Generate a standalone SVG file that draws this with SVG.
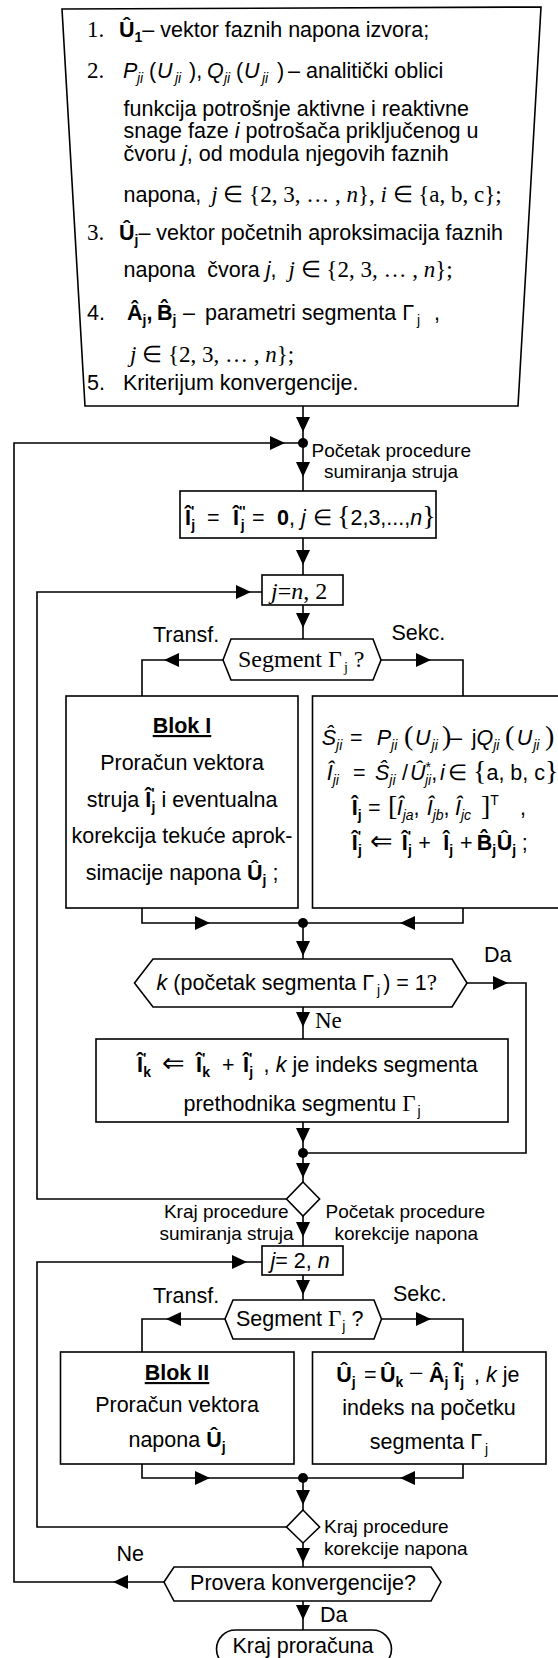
<svg xmlns="http://www.w3.org/2000/svg" width="558" height="1658" viewBox="0 0 558 1658">
<style>
.sh{fill:#fff;stroke:#000;stroke-width:1.6}
.ln{fill:none;stroke:#000;stroke-width:1.6}
.t{font-family:"Liberation Sans",Arial,sans-serif;font-size:21.5px;fill:#000}
.sm{font-family:"Liberation Sans",Arial,sans-serif;font-size:19px;fill:#000}
.tm{font-family:"Liberation Serif","Times New Roman",serif;font-size:23px;fill:#000}
.b{font-weight:bold}
.i{font-style:italic}
.u{font-size:14px}
.c{text-anchor:middle}
.e{text-anchor:end}
.bp{font-family:"Liberation Serif","Times New Roman",serif;font-size:28px}
.ar{font-family:"DejaVu Sans",sans-serif;font-size:27px}
.mn{font-family:"Liberation Serif","Times New Roman",serif;font-size:26px}
</style>
<defs>
<path id="ah" d="M0,0 L-15,-7 L-15,7 Z"/>
</defs>
<rect width="558" height="1658" fill="#fff"/>

<!-- connectors -->
<g id="connectors">
<g class="ln">
<path d="M303,406 V491"/>
<path d="M164,1582 H14 V443 H303"/>
<path d="M303,538 V575"/>
<path d="M286.5,1199 H37 V592 H262"/>
<path d="M303,605 V639"/>
<path d="M223,660 H142 V696"/>
<path d="M381,660 H463 V696"/>
<path d="M142,908 V923 H463 V908"/>
<path d="M303,923 V959"/>
<path d="M467,983 H526 V1153 H303"/>
<path d="M303,1007 V1039"/>
<path d="M303,1122 V1182"/>
<path d="M303,1216 V1246"/>
<path d="M286.5,1527 H37 V1262 H262"/>
<path d="M303,1275 V1300"/>
<path d="M225,1319 H142 V1352"/>
<path d="M381.5,1319 H463 V1352"/>
<path d="M142,1464 V1478 H463 V1464"/>
<path d="M303,1478 V1510"/>
<path d="M303,1543 V1567"/>
<path d="M303,1601 V1630"/>
</g>
<g fill="#000">
<circle cx="303" cy="443" r="5"/>
<circle cx="303" cy="923" r="5"/>
<circle cx="303" cy="1153" r="5"/>
<circle cx="303" cy="1478" r="5"/>
<use href="#ah" transform="translate(303,432) rotate(90)"/>
<use href="#ah" transform="translate(285,443)"/>
<use href="#ah" transform="translate(303,477) rotate(90)"/>
<use href="#ah" transform="translate(303,565) rotate(90)"/>
<use href="#ah" transform="translate(251,592)"/>
<use href="#ah" transform="translate(303,628) rotate(90)"/>
<use href="#ah" transform="translate(164,660) rotate(180)"/>
<use href="#ah" transform="translate(431,660)"/>
<use href="#ah" transform="translate(210,923)"/>
<use href="#ah" transform="translate(400,923) rotate(180)"/>
<use href="#ah" transform="translate(303,956) rotate(90)"/>
<use href="#ah" transform="translate(508,983)"/>
<use href="#ah" transform="translate(303,1027) rotate(90)"/>
<use href="#ah" transform="translate(303,1143) rotate(90)"/>
<use href="#ah" transform="translate(303,1178) rotate(90)"/>
<use href="#ah" transform="translate(303,1237) rotate(90)"/>
<use href="#ah" transform="translate(247,1262)"/>
<use href="#ah" transform="translate(303,1295) rotate(90)"/>
<use href="#ah" transform="translate(166,1319) rotate(180)"/>
<use href="#ah" transform="translate(431,1319)"/>
<use href="#ah" transform="translate(210,1478)"/>
<use href="#ah" transform="translate(400,1478) rotate(180)"/>
<use href="#ah" transform="translate(303,1505) rotate(90)"/>
<use href="#ah" transform="translate(303,1563) rotate(90)"/>
<use href="#ah" transform="translate(113,1582) rotate(180)"/>
<use href="#ah" transform="translate(303,1620) rotate(90)"/>
</g>
<g id="connector-labels">
<text class="sm" x="311.5" y="457">Početak procedure</text>
<text class="sm" x="324" y="478">sumiranja struja</text>
<text class="t" x="153" y="642">Transf.</text>
<text class="t" x="391.5" y="640">Sekc.</text>
<text class="t" x="484" y="962">Da</text>
<text class="tm" x="315" y="1028">Ne</text>
<text class="sm e" x="288.5" y="1218">Kraj procedure</text>
<text class="sm e" x="293.5" y="1240">sumiranja struja</text>
<text class="sm" x="325.5" y="1218">Početak procedure</text>
<text class="sm" x="334.5" y="1240">korekcije napona</text>
<text class="t" x="153" y="1303">Transf.</text>
<text class="t" x="393" y="1301">Sekc.</text>
<text class="sm" x="324" y="1533">Kraj procedure</text>
<text class="sm" x="324" y="1555">korekcije napona</text>
<text class="t" x="116.5" y="1561">Ne</text>
<text class="t" x="320" y="1622">Da</text>
</g>
</g>

<!-- input data -->
<g id="input-data">
<polygon class="sh" points="62,9 541,7 518,406 85,406"/>
<text class="tm" x="87" y="37">1.</text>
<text class="t" x="119" y="37"><tspan class="b">Û</tspan><tspan class="b u" dy="5">1</tspan><tspan dy="-5">– vektor faznih napona izvora;</tspan></text>
<text class="tm" x="87" y="78">2.</text>
<text class="t" y="78"><tspan x="123" class="i">P</tspan><tspan x="137" class="i u" dy="5">ji</tspan><tspan x="149" dy="-5">(</tspan><tspan x="157" class="i">U</tspan><tspan x="175" class="i u" dy="5">ji</tspan><tspan x="189" dy="-5">),</tspan><tspan x="207" class="i">Q</tspan><tspan x="224" class="i u" dy="5">ji</tspan><tspan x="236" dy="-5">(</tspan><tspan x="244" class="i">U</tspan><tspan x="262" class="i u" dy="5">ji</tspan><tspan x="277" dy="-5">)</tspan><tspan x="288">– analitički oblici</tspan></text>
<text class="t" x="123.5" y="115.5">funkcija potrošnje aktivne i reaktivne</text>
<text class="t" x="123.5" y="138">snage faze <tspan class="i">i</tspan> potrošača priključenog u</text>
<text class="t" x="123.5" y="161">čvoru <tspan class="i">j</tspan>, od modula njegovih faznih</text>
<text class="t" x="123.5" y="202">napona, <tspan class="tm" dx="4"><tspan class="i">j</tspan> ∈ {2, 3, … , <tspan class="i">n</tspan>}, <tspan class="i">i</tspan> ∈ {a, b, c};</tspan></text>
<text class="tm" x="87" y="240">3.</text>
<text class="t" x="119" y="240"><tspan class="b">Û</tspan><tspan class="b u" dy="5">j</tspan><tspan dy="-5">– vektor početnih aproksimacija faznih</tspan></text>
<text class="t" x="123.5" y="277">napona&#160; čvora <tspan class="i">j</tspan>,&#160; <tspan class="tm"><tspan class="i">j</tspan> ∈ {2, 3, … , <tspan class="i">n</tspan>};</tspan></text>
<text class="t" x="87" y="320">4.</text>
<text class="t" y="320"><tspan x="127" class="b">Â</tspan><tspan class="b u" dy="5">j</tspan><tspan class="b" dy="-5">,</tspan><tspan x="157" class="b">B̂</tspan><tspan class="b u" dy="5">j</tspan><tspan x="183" dy="-5">–</tspan><tspan x="205">parametri segmenta Γ</tspan><tspan class="u" dy="5" dx="3">j</tspan><tspan x="434" dy="-5">,</tspan></text>
<text class="tm" x="130" y="362"><tspan class="i">j</tspan> ∈ {2, 3, … , <tspan class="i">n</tspan>};</text>
<text class="t" x="87" y="390">5.</text>
<text class="t" x="123" y="390">Kriterijum konvergencije.</text>
</g>

<!-- reset of the current sums -->
<g id="init-currents">
<rect class="sh" x="180" y="491" width="256" height="47"/>
<text class="t" y="525"><tspan x="185" class="b">Î</tspan><tspan class="b u" dy="-9">'</tspan><tspan class="b u" dx="-3" dy="14">j</tspan><tspan x="207" dy="-5">=</tspan><tspan x="233" class="b">Î</tspan><tspan class="b u" dy="-9">''</tspan><tspan class="b u" dx="-5" dy="14">j</tspan><tspan x="252" dy="-5">=</tspan><tspan x="277" class="b">0</tspan><tspan>,</tspan><tspan x="301" class="i">j</tspan><tspan x="313">∈</tspan><tspan x="337" class="bp">{</tspan><tspan>2,3,...,</tspan><tspan class="i">n</tspan><tspan class="bp">}</tspan></text>
</g>

<g id="loop-backward">
<rect class="sh" x="262" y="575" width="81" height="30"/>
<text class="tm" x="271" y="599" style="font-size:24px"><tspan class="i">j</tspan>=<tspan class="i">n</tspan>, 2</text>
</g>

<g id="segment-type-1">
<polygon class="sh" points="223,660 231,639 373,639 381,660 373,680 231,680"/>
<text class="tm" x="238" y="667" style="font-size:24px">Segment Γ<tspan class="u" dy="5" dx="2">j</tspan><tspan dy="-5"> ?</tspan></text>
</g>

<g id="block-1">
<rect class="sh" x="66" y="696" width="232" height="212"/>
<text class="t b c" x="182" y="733" text-decoration="underline">Blok I</text>
<text class="t c" x="182" y="770">Proračun vektora</text>
<text class="t c" x="182" y="807">struja <tspan class="b">Î</tspan><tspan class="b u" dy="-9">'</tspan><tspan class="b u" dx="-3" dy="14">j</tspan><tspan dy="-5"> i eventualna</tspan></text>
<text class="t c" x="182" y="843">korekcija tekuće aprok-</text>
<text class="t c" x="182" y="880">simacije napona <tspan class="b">Û</tspan><tspan class="b u" dy="5">j</tspan><tspan dy="-5"> ;</tspan></text>
</g>

<g id="section-1">
<rect class="sh" x="312.5" y="696" width="260" height="212"/>
<text class="t" y="745"><tspan x="321.7" class="i">Ŝ</tspan><tspan class="i u" dy="5">ji</tspan><tspan x="350" dy="-5">=</tspan><tspan x="376.7" class="i">P</tspan><tspan class="i u" dy="5">ji</tspan><tspan x="404" dy="-5" class="bp">(</tspan><tspan x="415" class="i">U</tspan><tspan class="i u" dy="5" dx="1">ji</tspan><tspan x="442" dy="-5" class="bp">)</tspan><tspan x="450">–</tspan><tspan x="471.7">j</tspan><tspan class="i">Q</tspan><tspan class="i u" dy="5">ji</tspan><tspan x="505" dy="-5" class="bp">(</tspan><tspan x="516.7" class="i">U</tspan><tspan class="i u" dy="5" dx="1">ji</tspan><tspan x="545" dy="-5" class="bp">)</tspan></text>
<text class="t" y="780"><tspan x="326.7" class="i">Î</tspan><tspan class="i u" dy="5">ji</tspan><tspan x="353" dy="-5">=</tspan><tspan x="375" class="i">Ŝ</tspan><tspan class="i u" dy="5">ji</tspan><tspan x="402" dy="-5">/</tspan><tspan x="410" class="i">Û</tspan><tspan class="u" dy="-8">*</tspan><tspan class="i u" dx="-6" dy="13">ji</tspan><tspan dy="-5">,</tspan><tspan x="440" class="i">i</tspan><tspan x="448.3">∈</tspan><tspan x="473" class="bp">{</tspan><tspan>a, b, c</tspan><tspan class="bp">}</tspan></text>
<text class="t" y="815"><tspan x="351.7" class="b">Î</tspan><tspan class="b u" dy="5">j</tspan><tspan x="368" dy="-5">=</tspan><tspan x="388" class="bp">[</tspan><tspan x="396.7" class="i">Î</tspan><tspan class="i u" dy="5">ja</tspan><tspan dy="-5">,</tspan><tspan x="426.7" class="i">Î</tspan><tspan class="i u" dy="5">jb</tspan><tspan dy="-5">,</tspan><tspan x="455" class="i">Î</tspan><tspan class="i u" dy="5">jc</tspan><tspan x="481" dy="-5" class="bp">]</tspan><tspan class="u" dy="-10">T</tspan><tspan x="520" dy="10">,</tspan></text>
<text class="t" y="850"><tspan x="351.7" class="b">Î</tspan><tspan class="b u" dy="-9">'</tspan><tspan class="b u" dx="-3" dy="14">j</tspan><tspan x="370" dy="-5" class="ar">⇐</tspan><tspan x="401.7" class="b">Î</tspan><tspan class="b u" dy="-9">'</tspan><tspan class="b u" dx="-3" dy="14">j</tspan><tspan x="418.3" dy="-5">+</tspan><tspan x="443.3" class="b">Î</tspan><tspan class="b u" dy="5">j</tspan><tspan x="460" dy="-5">+</tspan><tspan x="476.7" class="b">B̂</tspan><tspan class="b u" dy="5">j</tspan><tspan x="496.7" dy="-5" class="b">Û</tspan><tspan class="b u" dy="5">j</tspan><tspan x="521.7" dy="-5">;</tspan></text>
</g>

<g id="segment-start-check">
<polygon class="sh" points="134.5,983 153,959 452,959 467,983 452,1007 153,1007"/>
<text class="t" x="156.6" y="990"><tspan class="i">k</tspan> (početak segmenta Γ<tspan class="u" dy="5" dx="3">j</tspan><tspan dy="-5" dx="3">) = 1</tspan><tspan class="tm">?</tspan></text>
</g>

<g id="predecessor-update">
<rect class="sh" x="96" y="1039" width="412" height="83"/>
<text class="t" y="1072"><tspan x="137" class="b">Î</tspan><tspan class="b u" dy="-9">'</tspan><tspan class="b u" dx="-3" dy="14">k</tspan><tspan x="162" dy="-5" class="ar">⇐</tspan><tspan x="196" class="b">Î</tspan><tspan class="b u" dy="-9">'</tspan><tspan class="b u" dx="-3" dy="14">k</tspan><tspan x="222" dy="-5">+</tspan><tspan x="243" class="b">Î</tspan><tspan class="b u" dy="-9">'</tspan><tspan class="b u" dx="-3" dy="14">j</tspan><tspan x="263.4" dy="-5">,</tspan><tspan x="275.8" class="i">k</tspan><tspan> je indeks segmenta</tspan></text>
<text class="t c" x="302" y="1111">prethodnika segmentu <tspan class="tm">Γ</tspan><tspan class="u" dy="5" dx="2">j</tspan></text>
</g>

<g id="end-summation">
<polygon class="sh" points="303,1182 319.6,1199 303,1216 286.5,1199"/>
</g>

<g id="loop-forward">
<rect class="sh" x="262" y="1246" width="81" height="29"/>
<text class="t" x="270.5" y="1268"><tspan class="i">j</tspan>= 2, <tspan class="i">n</tspan></text>
</g>

<g id="segment-type-2">
<polygon class="sh" points="225,1319 233,1300 374,1300 381.5,1319 374,1339 233,1339"/>
<text class="t" x="236" y="1326">Segment <tspan class="tm">Γ</tspan><tspan class="u" dy="5" dx="1">j</tspan><tspan dy="-5"> ?</tspan></text>
</g>

<g id="block-2">
<rect class="sh" x="60.5" y="1352" width="233.5" height="112"/>
<text class="t b c" x="177" y="1380" text-decoration="underline">Blok II</text>
<text class="t c" x="177" y="1412">Proračun vektora</text>
<text class="t c" x="177" y="1447">napona <tspan class="b">Û</tspan><tspan class="b u" dy="5">j</tspan></text>
</g>

<g id="section-2">
<rect class="sh" x="312.5" y="1352" width="233.5" height="112"/>
<text class="t" y="1382"><tspan x="336.3" class="b">Û</tspan><tspan class="b u" dy="5">j</tspan><tspan x="364" dy="-5">=</tspan><tspan x="380" class="b">Û</tspan><tspan class="b u" dy="5">k</tspan><tspan x="409" dy="-5" class="mn">−</tspan><tspan x="429" class="b">Â</tspan><tspan class="b u" dy="5">j</tspan><tspan x="454" dy="-5" class="b">Î</tspan><tspan class="b u" dy="-9">'</tspan><tspan class="b u" dx="-3" dy="14">j</tspan><tspan x="474" dy="-5">,</tspan><tspan x="486" class="i">k</tspan><tspan> je</tspan></text>
<text class="t c" x="429" y="1415">indeks na početku</text>
<text class="t c" x="429" y="1449">segmenta Γ<tspan class="u" dy="5" dx="3">j</tspan></text>
</g>

<g id="end-correction">
<polygon class="sh" points="303,1510 319.6,1527 303,1543 286.5,1527"/>
</g>

<g id="convergence-check">
<polygon class="sh" points="164,1582 174,1567 431,1567 441,1582 431,1601 174,1601"/>
<text class="t c" x="303" y="1590">Provera konvergencije?</text>
</g>

<g id="end">
<rect class="sh" x="216.5" y="1630" width="175" height="38" rx="19"/>
<text class="t c" x="303" y="1653">Kraj proračuna</text>
</g>
</svg>
